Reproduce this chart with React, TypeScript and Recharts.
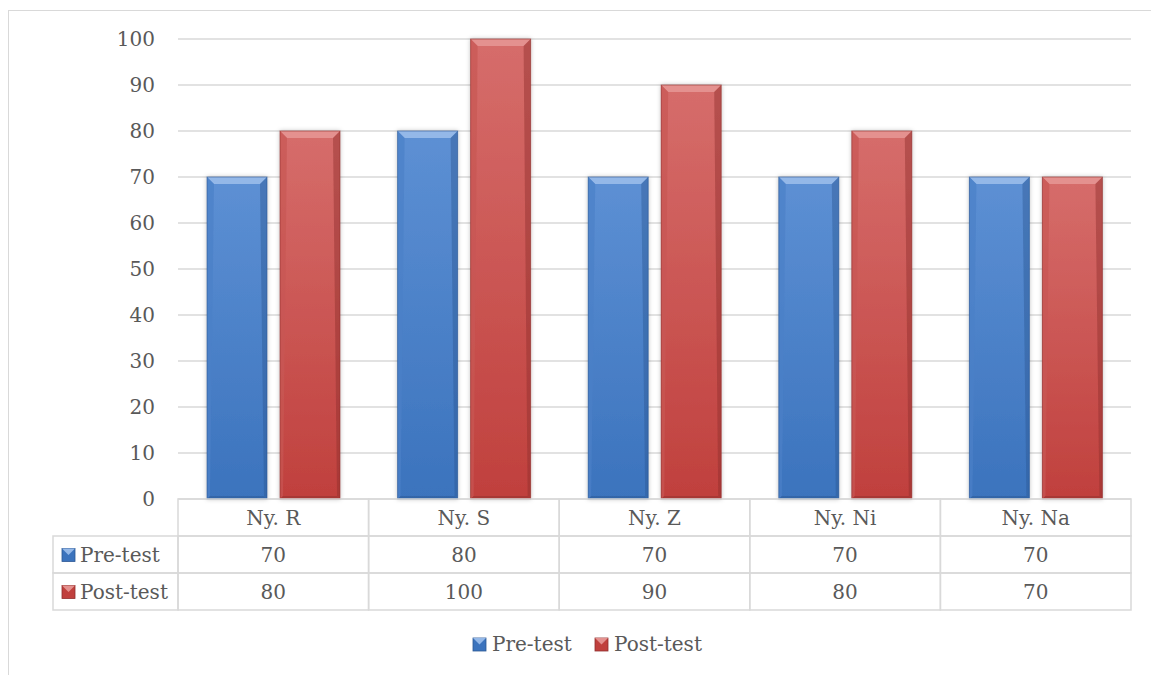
import React from 'react';
import { BarChart, Bar, XAxis, YAxis, CartesianGrid } from 'recharts';

// 数据
const categories = ['Ny. R', 'Ny. S', 'Ny. Z', 'Ny. Ni', 'Ny. Na'];
const preTest = [70, 80, 70, 70, 70];
const postTest = [80, 100, 90, 80, 70];
const seriesNames = ['Pre-test', 'Post-test'];
const yTicks = [0, 10, 20, 30, 40, 50, 60, 70, 80, 90, 100];

const W = 1151;
const H = 675;
const X_AXIS_H = 30;
const MARGIN = { top: 39, right: 20, bottom: 176 - X_AXIS_H, left: 0 };
const Y_AXIS_W = 178;
const PLOT_LEFT = MARGIN.left + Y_AXIS_W;
const PLOT_RIGHT = W - MARGIN.right;
const PLOT_BOTTOM = H - 176;
const ROW_H = 37;
const FONT = '"DejaVu Serif", serif';
const FS = 20;
const TEXT = '#595959';
const LINE = '#d9d9d9';

const palettes = {
  pre: { top: '#5d90d4', bottom: '#3b73bd', bevel: '#94b8e8', side: '#4b80c8', dark: '#2c5894' },
  post: { top: '#d66d6b', bottom: '#c0403d', bevel: '#e4918f', side: '#c85754', dark: '#8f2f2d' },
};

const chartData = categories.map((name, i) => ({
  name,
  pre: preTest[i],
  post: postTest[i],
}));

const BevelBar = (props: any) => {
  const { x, y, width, height, pal, id } = props;
  if (!height || height <= 0) return null;
  const p = palettes[pal as 'pre' | 'post'];
  const b = Math.min(7, height / 2);
  const s = 3;
  return (
    <g filter="url(#barShadow)">
      <rect x={x} y={y} width={width} height={height} fill={`url(#face-${id})`} />
      <polygon
        points={`${x},${y} ${x + width},${y} ${x + width - b},${y + b} ${x + b},${y + b}`}
        fill={p.bevel}
      />
      <polygon
        points={`${x},${y} ${x + b},${y + b} ${x + s},${y + height - s} ${x},${y + height}`}
        fill={p.side}
        opacity={0.7}
      />
      <polygon
        points={`${x + width},${y} ${x + width - b},${y + b} ${x + width - s},${y + height - s} ${x + width},${y + height}`}
        fill={p.dark}
        opacity={0.45}
      />
      <polygon
        points={`${x},${y + height} ${x + s},${y + height - s} ${x + width - s},${y + height - s} ${x + width},${y + height}`}
        fill={p.dark}
        opacity={0.5}
      />
      <rect x={x} y={y} width={width} height={height} fill="none" stroke={p.dark} strokeOpacity={0.6} strokeWidth={1} />
    </g>
  );
};

const LegendIcon = ({ pal, x, y }: { pal: 'pre' | 'post'; x: number; y: number }) => {
  const p = palettes[pal];
  const sz = 13;
  return (
    <g>
      <rect x={x} y={y} width={sz} height={sz} fill={p.bottom} stroke={p.dark} strokeWidth={0.8} />
      <polygon points={`${x},${y} ${x + sz},${y} ${x + sz / 2},${y + sz / 2}`} fill={p.bevel} />
    </g>
  );
};

const TableTick = (props: any) => {
  const { x, payload } = props;
  const i = payload.index;
  const cw = (PLOT_RIGHT - PLOT_LEFT) / categories.length;
  const left = x - cw / 2;
  const rows = [preTest, postTest];
  return (
    <g fontFamily={FONT} fontSize={FS} fill={TEXT}>
      <rect x={left} y={PLOT_BOTTOM} width={cw} height={ROW_H} fill="none" stroke={LINE} strokeWidth={1.5} />
      <text x={x} y={PLOT_BOTTOM + ROW_H / 2} textAnchor="middle" dominantBaseline="central" fill={TEXT}>
        {payload.value}
      </text>
      {rows.map((r, k) => (
        <g key={k}>
          <rect x={left} y={PLOT_BOTTOM + ROW_H * (k + 1)} width={cw} height={ROW_H} fill="none" stroke={LINE} strokeWidth={1.5} />
          <text x={x} y={PLOT_BOTTOM + ROW_H * (k + 1.5)} textAnchor="middle" dominantBaseline="central" fill={TEXT}>
            {r[i]}
          </text>
        </g>
      ))}
      {i === 0 &&
        seriesNames.map((n, k) => (
          <g key={n}>
            <rect x={53} y={PLOT_BOTTOM + ROW_H * (k + 1)} width={left - 53} height={ROW_H} fill="none" stroke={LINE} strokeWidth={1.5} />
            <LegendIcon pal={k === 0 ? 'pre' : 'post'} x={62} y={PLOT_BOTTOM + ROW_H * (k + 1.5) - 6} />
            <text x={80} y={PLOT_BOTTOM + ROW_H * (k + 1.5)} dominantBaseline="central" fill={TEXT}>
              {n}
            </text>
          </g>
        ))}
    </g>
  );
};

export default function App() {
  return (
    <div style={{ position: 'absolute', left: 0, top: 0, width: W, height: H, background: '#fff' }}>
      <div
        style={{
          position: 'absolute',
          left: 8,
          top: 10,
          right: 0,
          bottom: 0,
          borderTop: `1.5px solid ${LINE}`,
          borderLeft: `1.5px solid ${LINE}`,
        }}
      />
      <BarChart
        width={W}
        height={H}
        data={chartData}
        margin={MARGIN}
        barSize={60}
        barGap={13}
        style={{ position: 'absolute', left: 0, top: 0 }}
      >
        <defs>
          <filter id="barShadow" x="-20%" y="-10%" width="140%" height="120%">
            <feDropShadow dx="0" dy="0" stdDeviation="2" floodColor="#000" floodOpacity="0.25" />
          </filter>
          {(['pre', 'post'] as const).map((k) => (
            <linearGradient key={k} id={`face-${k}`} x1="0" y1="0" x2="0" y2="1">
              <stop offset="0%" stopColor={palettes[k].top} />
              <stop offset="100%" stopColor={palettes[k].bottom} />
            </linearGradient>
          ))}
        </defs>
        <CartesianGrid vertical={false} stroke={LINE} strokeWidth={1.5} />
        <YAxis
          width={Y_AXIS_W}
          domain={[0, 100]}
          ticks={yTicks}
          axisLine={false}
          tickLine={false}
          tickMargin={17}
          tick={{ fill: TEXT, fontSize: FS, fontFamily: FONT }}
        />
        <XAxis
          dataKey="name"
          axisLine={false}
          tickLine={false}
          tick={(p: any) => <TableTick {...p} />}
          interval={0}
          height={X_AXIS_H}
        />
        <Bar dataKey="pre" name={seriesNames[0]} isAnimationActive={false} shape={<BevelBar pal="pre" id="pre" />} />
        <Bar dataKey="post" name={seriesNames[1]} isAnimationActive={false} shape={<BevelBar pal="post" id="post" />} />
      </BarChart>
      <svg
        width={W}
        height={40}
        style={{ position: 'absolute', left: 0, top: 624 }}
        fontFamily={FONT}
        fontSize={FS}
      >
        {seriesNames.map((n, k) => {
          const x0 = k === 0 ? 473 : 595;
          return (
            <g key={n}>
              <LegendIcon pal={k === 0 ? 'pre' : 'post'} x={x0} y={14} />
              <text x={x0 + 19} y={20} dominantBaseline="central" fill={TEXT}>
                {n}
              </text>
            </g>
          );
        })}
      </svg>
    </div>
  );
}
